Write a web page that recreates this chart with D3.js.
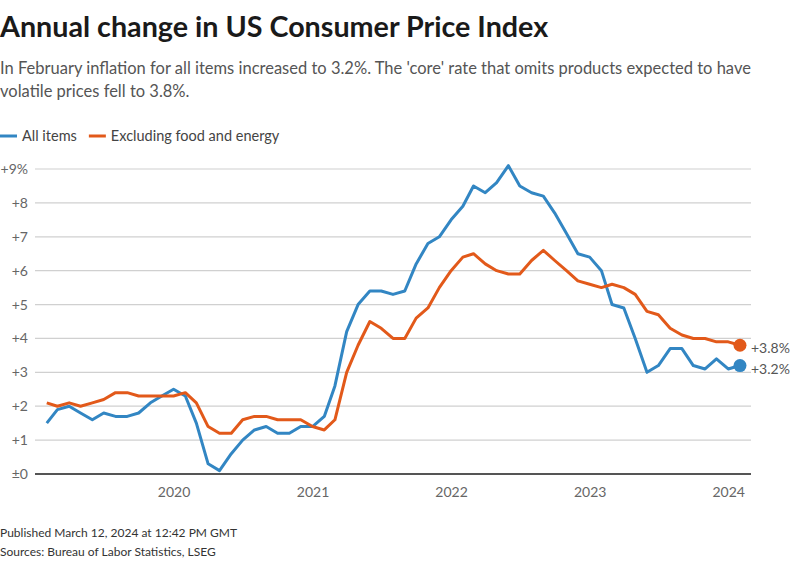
<!DOCTYPE html>
<html>
<head>
<meta charset="utf-8">
<script src="https://cdn.jsdelivr.net/npm/d3@7"></script>
<style>
  body { margin: 0; background: #fff; }
  svg { display: block; font-family: Lato, "Noto Sans", sans-serif; }
</style>
</head>
<body>
<svg id="chart" width="800" height="563"></svg>
<script>
// monthly, Feb 2019 .. Feb 2024
const startMonth = new Date(2019, 1, 1);
const allItems = [
  1.5, 1.9, 2.0, 1.8, 1.6, 1.8, 1.7, 1.7, 1.8, 2.1, 2.3,
  2.5, 2.3, 1.5, 0.3, 0.1, 0.6, 1.0, 1.3, 1.4, 1.2, 1.2, 1.4,
  1.4, 1.7, 2.6, 4.2, 5.0, 5.4, 5.4, 5.3, 5.4, 6.2, 6.8, 7.0,
  7.5, 7.9, 8.5, 8.3, 8.6, 9.1, 8.5, 8.3, 8.2, 7.7, 7.1, 6.5,
  6.4, 6.0, 5.0, 4.9, 4.0, 3.0, 3.2, 3.7, 3.7, 3.2, 3.1, 3.4,
  3.1, 3.2
];
const core = [
  2.1, 2.0, 2.1, 2.0, 2.1, 2.2, 2.4, 2.4, 2.3, 2.3, 2.3,
  2.3, 2.4, 2.1, 1.4, 1.2, 1.2, 1.6, 1.7, 1.7, 1.6, 1.6, 1.6,
  1.4, 1.3, 1.6, 3.0, 3.8, 4.5, 4.3, 4.0, 4.0, 4.6, 4.9, 5.5,
  6.0, 6.4, 6.5, 6.2, 6.0, 5.9, 5.9, 6.3, 6.6, 6.3, 6.0, 5.7,
  5.6, 5.5, 5.6, 5.5, 5.3, 4.8, 4.7, 4.3, 4.1, 4.0, 4.0, 3.9,
  3.9, 3.8
];
const seriesNames = ['All items', 'Excluding food and energy'];
const seriesColors = ['#3286c3', '#e2591a'];
const yTicks = [0, 1, 2, 3, 4, 5, 6, 7, 8, 9];
const xTickYears = [2020, 2021, 2022, 2023, 2024];

const svg = d3.select('#chart');
const margin = {top: 169, right: 49, bottom: 89, left: 35};
const width = 800 - margin.left - margin.right;
const height = 563 - margin.top - margin.bottom;

const monthDate = i => new Date(startMonth.getFullYear(), startMonth.getMonth() + i, 1);

// header
svg.append('text')
  .attr('x', 0).attr('y', 37)
  .attr('font-size', 28.7).attr('font-weight', 700).attr('fill', '#1a1a1a')
  .text('Annual change in US Consumer Price Index');

const sub = svg.append('text')
  .attr('x', 0).attr('y', 74)
  .attr('font-size', 16.5).attr('fill', '#555');
sub.append('tspan').attr('x', 0)
  .text("In February inflation for all items increased to 3.2%. The 'core' rate that omits products expected to have");
sub.append('tspan').attr('x', 0).attr('dy', 23)
  .text('volatile prices fell to 3.8%.');

// legend
const legend = svg.append('g').attr('transform', 'translate(0,136)');
let lx = 0;
seriesNames.forEach((name, i) => {
  legend.append('line')
    .attr('x1', lx).attr('x2', lx + 17).attr('y1', 0).attr('y2', 0)
    .attr('stroke', seriesColors[i]).attr('stroke-width', 3);
  const t = legend.append('text')
    .attr('x', lx + 22).attr('y', 5)
    .attr('font-size', 14.5).attr('fill', '#444')
    .text(name);
  lx += 22 + t.node().getComputedTextLength() + 12;
});

const g = svg.append('g')
  .attr('transform', `translate(${margin.left},${margin.top})`);

const x = d3.scaleTime()
  .domain([new Date(2019, 0, 1), new Date(2024, 2, 1)])
  .range([0, width]);
const y = d3.scaleLinear().domain([0, 9]).range([height, 0]);

// gridlines
g.append('g')
  .selectAll('line')
  .data(yTicks.filter(d => d !== 0))
  .join('line')
  .attr('x1', 0).attr('x2', width)
  .attr('y1', d => y(d)).attr('y2', d => y(d))
  .attr('stroke', '#d0d0d0').attr('stroke-width', 1.2);

// y axis labels
const yAxis = g.append('g')
  .call(d3.axisLeft(y).tickValues(yTicks).tickSize(0).tickPadding(7)
    .tickFormat(d => d === 0 ? '±0' : d === 9 ? '+9%' : '+' + d));
yAxis.select('.domain').remove();
yAxis.selectAll('text')
  .attr('font-family', 'Lato, "Noto Sans", sans-serif')
  .attr('font-size', 14).attr('fill', '#666')
  .attr('text-anchor', 'end');

// x axis
const xAxis = g.append('g')
  .attr('transform', `translate(0,${height})`)
  .call(d3.axisBottom(x)
    .tickValues(xTickYears.map(yr => new Date(yr, 0, 1)))
    .tickSize(0).tickPadding(13)
    .tickFormat(d3.timeFormat('%Y')));
xAxis.select('.domain').remove();
xAxis.selectAll('text')
  .attr('font-family', 'Lato, "Noto Sans", sans-serif')
  .attr('font-size', 14).attr('fill', '#666');

g.append('line')
  .attr('x1', 0).attr('x2', width)
  .attr('y1', y(0)).attr('y2', y(0))
  .attr('stroke', '#555').attr('stroke-width', 2);

// lines
const line = d3.line()
  .x((d, i) => x(monthDate(i)))
  .y(d => y(d));

[allItems, core].forEach((vals, i) => {
  g.append('path')
    .datum(vals)
    .attr('fill', 'none')
    .attr('stroke', seriesColors[i])
    .attr('stroke-width', 3)
    .attr('stroke-linejoin', 'round')
    .attr('d', line);
});

// end dots and labels
[allItems, core].forEach((vals, i) => {
  const last = vals.length - 1;
  const cx = x(monthDate(last));
  const cy = y(vals[last]);
  g.append('circle')
    .attr('cx', cx).attr('cy', cy).attr('r', 6.5)
    .attr('fill', seriesColors[i]);
  g.append('text')
    .attr('x', cx + 11).attr('y', cy + 8)
    .attr('font-size', 14).attr('fill', '#555')
    .text('+' + vals[last].toFixed(1) + '%');
});

// footer
svg.append('text')
  .attr('x', 0).attr('y', 537)
  .attr('font-size', 12).attr('fill', '#333')
  .text('Published March 12, 2024 at 12:42 PM GMT');
svg.append('text')
  .attr('x', 0).attr('y', 556)
  .attr('font-size', 12).attr('fill', '#333')
  .text('Sources: Bureau of Labor Statistics, LSEG');
</script>
</body>
</html>
